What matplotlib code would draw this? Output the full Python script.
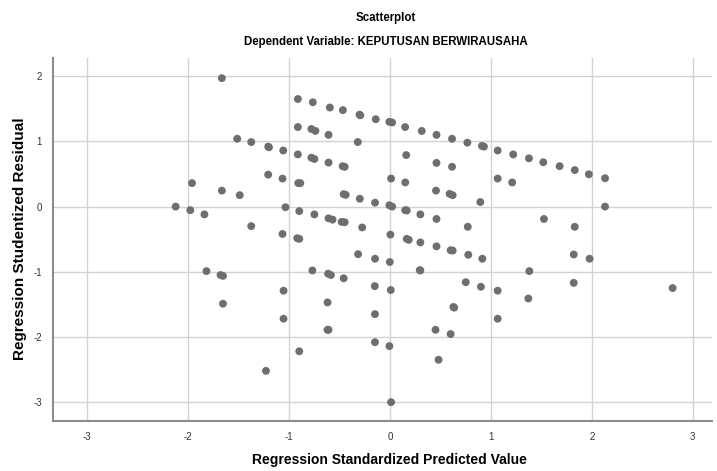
import matplotlib
matplotlib.use('Agg')
import matplotlib.pyplot as plt

# Standardized predicted value (x) and studentized residual (y)
pred = [-1.667, -0.914, -0.766, -0.597, -0.468, -0.303, -0.295, -0.142,
        -0.914, -0.78, -0.74, -0.61, -0.32,
        -1.515, -1.376, -1.208, -1.200, -1.059, -0.914, -0.78, -0.75, -0.61, -0.47, -0.45,
        -1.963, -1.667, -1.49, -1.208, -1.066, -0.91, -0.89, -0.46, -0.44, -0.30, -0.149,
        -2.125, -1.98, -1.84, -1.037, -0.90, -0.75, -0.61, -0.57, -0.48, -0.45, -0.277, -1.376,
        -1.066, -0.92, -0.90, -0.317, -0.149,
        -1.82, -1.68, -1.656, -0.77, -0.614, -0.587, -0.46, -0.152,
        -1.656, -1.056, -0.62, -0.15, -1.056, -0.62, -0.61, -0.15, -0.90, -1.23,
        -0.007, 0.02, 0.149, 0.314, 0.46, 0.614, 0.766, 0.91, 0.93, 1.066, 1.22, 1.376,
        1.518, 1.68, 1.83, 1.97, 2.13,
        0.16, 0.46, 0.614, 0.01, 0.15, 0.455, 0.59, 0.62, 1.066, 1.21,
        -0.007, 0.02, 0.15, 0.165, 0.30, 0.46, 0.77, 0.894, 1.525, 1.83, 2.13,
        0.003, 0.165, 0.185, 0.30, 0.46, 0.60, 0.62, 0.775, 0.914,
        -0.003, 0.294, 0.30, 1.38, 1.82, 1.977, 1.82,
        0.007, 0.75, 0.90, 1.066, 1.37, 2.80, 0.627, 0.635,
        1.066, 0.45, 0.60, -0.007, 0.48, 0.01]
resid = [1.97, 1.65, 1.60, 1.52, 1.48, 1.41, 1.40, 1.34,
         1.22, 1.19, 1.16, 1.10, 0.99,
         1.04, 0.99, 0.92, 0.91, 0.86, 0.80, 0.75, 0.73, 0.675, 0.62, 0.61,
         0.36, 0.245, 0.175, 0.49, 0.43, 0.36, 0.36, 0.19, 0.18, 0.12, 0.06,
         0.0, -0.055, -0.12, -0.01, -0.07, -0.12, -0.18, -0.20, -0.235, -0.24, -0.32, -0.30,
         -0.42, -0.485, -0.495, -0.73, -0.80,
         -0.99, -1.05, -1.063, -0.98, -1.03, -1.05, -1.10, -1.22,
         -1.49, -1.29, -1.47, -1.65, -1.72, -1.89, -1.89, -2.08, -2.22, -2.52,
         1.30, 1.29, 1.22, 1.16, 1.10, 1.04, 0.98, 0.93, 0.92, 0.86, 0.80, 0.74,
         0.68, 0.62, 0.56, 0.495, 0.435,
         0.79, 0.67, 0.61, 0.43, 0.37, 0.245, 0.195, 0.175, 0.43, 0.37,
         0.02, 0.0, -0.055, -0.06, -0.12, -0.19, -0.31, 0.07, -0.19, -0.31, 0.0,
         -0.43, -0.495, -0.51, -0.55, -0.61, -0.67, -0.675, -0.74, -0.80,
         -0.85, -0.975, -0.98, -0.99, -0.735, -0.80, -1.17,
         -1.28, -1.16, -1.23, -1.29, -1.41, -1.25, -1.54, -1.55,
         -1.72, -1.89, -1.955, -2.14, -2.35, -3.0]

x_ticks = [-3, -2, -1, 0, 1, 2, 3]
y_ticks = [-3, -2, -1, 0, 1, 2]

plt.rcParams['font.family'] = ['Liberation Sans', 'DejaVu Sans']
plt.rcParams['axes.unicode_minus'] = False

fig = plt.figure(figsize=(7.17, 4.71), dpi=100)
ax = fig.add_axes([0.074, 0.106, 0.919, 0.771])

ax.scatter(pred, resid, s=32, color='#6e6e6e', edgecolors='none', zorder=3)

ax.set_xlim(-3.34, 3.19)
ax.set_ylim(-3.29, 2.28)
ax.set_xticks(x_ticks)
ax.set_yticks(y_ticks)
ax.grid(True, color='#d2d2d2', linewidth=1)
ax.set_axisbelow(True)
ax.tick_params(length=0, labelsize=7, colors='#333333', pad=8)

for side in ['top', 'right']:
    ax.spines[side].set_visible(False)
for side in ['left', 'bottom']:
    ax.spines[side].set_color('#8c8c8c')
    ax.spines[side].set_linewidth(1.5)

ax.set_xlabel('Regression Standardized Predicted Value', fontsize=10,
              fontweight='bold', va='center')
ax.set_ylabel('Regression Studentized Residual', fontsize=11,
              fontweight='bold', va='center')
ax.xaxis.set_label_coords(0.511, -0.107)
ax.yaxis.set_label_coords(-0.050, 0.501)

fig.text(0.538, 0.962, 'Scatterplot', ha='center', va='center',
         fontsize=8.3, fontweight='bold')
fig.text(0.538, 0.911, 'Dependent Variable: KEPUTUSAN BERWIRAUSAHA', ha='center',
         va='center', fontsize=8.3, fontweight='bold')

fig.savefig('out.png', dpi=100, facecolor='white')
